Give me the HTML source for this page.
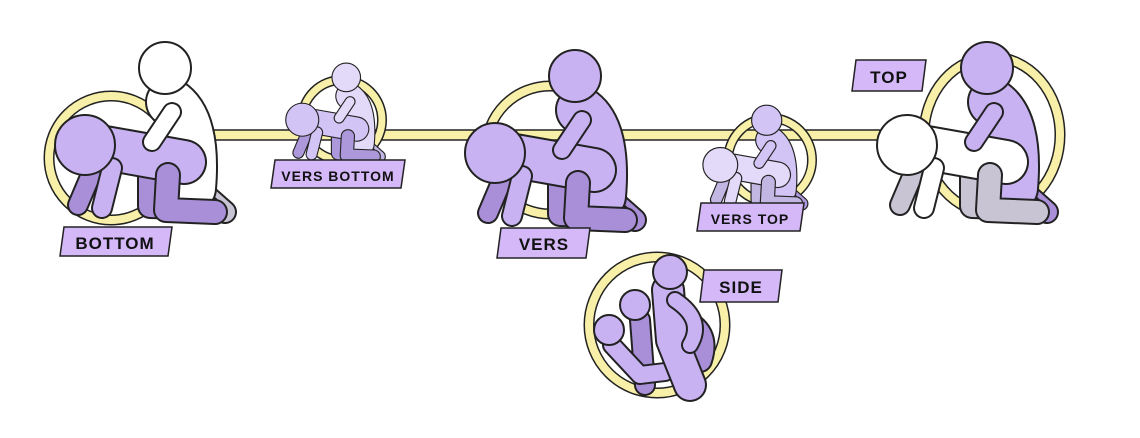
<!DOCTYPE html>
<html><head><meta charset="utf-8"><style>
html,body{margin:0;padding:0;background:#fff}
svg{display:block}
.lbl{font-family:"Liberation Sans",sans-serif;font-weight:bold;fill:#111;letter-spacing:1px}
</style></head><body>
<svg width="1140" height="438" viewBox="0 0 1140 438" xmlns="http://www.w3.org/2000/svg">
<defs>
<g id="pair" stroke-linecap="round" stroke-linejoin="round" fill="none">
  <path d="M150 150 L175 172" stroke="#222" stroke-width="24"/>
  <path d="M150 150 L175 172" stroke="var(--ts)" stroke-width="20"/>
  <path d="M45 125 L28 165" stroke="#222" stroke-width="22"/>
  <path d="M45 125 L28 165" stroke="var(--bs)" stroke-width="18"/>
  <path d="M100 128 L100 166 L158 168" stroke="#222" stroke-width="26"/>
  <path d="M100 128 L100 166 L158 168" stroke="var(--bs)" stroke-width="22"/>
  <path d="M120 62 Q148 80 142 148" stroke="#222" stroke-width="50"/>
  <path d="M120 62 Q148 80 142 148" stroke="var(--t)" stroke-width="46"/>
  <path d="M55 108 L134 122" stroke="#222" stroke-width="46"/>
  <path d="M55 108 L134 122" stroke="var(--b)" stroke-width="42"/>
  <path d="M62 128 L52 168" stroke="#222" stroke-width="22"/>
  <path d="M62 128 L52 168" stroke="var(--b)" stroke-width="18"/>
  <path d="M118 135 L116 170 L165 172" stroke="#222" stroke-width="26"/>
  <path d="M118 135 L116 170 L165 172" stroke="var(--bs)" stroke-width="22"/>
  <path d="M122 72 L102 102" stroke="#222" stroke-width="20"/>
  <path d="M122 72 L102 102" stroke="var(--t)" stroke-width="16"/>
  <circle cx="35" cy="105" r="30" fill="var(--b)" stroke="#222" stroke-width="2"/>
  <circle cx="115" cy="28" r="26" fill="var(--t)" stroke="#222" stroke-width="2"/>
</g>
</defs>

<rect x="170" y="130" width="740" height="10" fill="#f8f0a8" stroke="#222" stroke-width="1.5"/>

<g fill="none">
<circle cx="111" cy="158" r="62" stroke="#222" stroke-width="11"/><circle cx="111" cy="158" r="62" stroke="#f8f0a8" stroke-width="8"/>
<circle cx="342" cy="120" r="40" stroke="#222" stroke-width="10"/><circle cx="342" cy="120" r="40" stroke="#f8f0a8" stroke-width="7"/>
<circle cx="550" cy="150" r="64" stroke="#222" stroke-width="11"/><circle cx="550" cy="150" r="64" stroke="#f8f0a8" stroke-width="8"/>
<circle cx="770" cy="160" r="42" stroke="#222" stroke-width="10"/><circle cx="770" cy="160" r="42" stroke="#f8f0a8" stroke-width="7"/>
<ellipse cx="992" cy="135" rx="68" ry="78" stroke="#222" stroke-width="11"/><ellipse cx="992" cy="135" rx="68" ry="78" stroke="#f8f0a8" stroke-width="8"/>
<circle cx="657" cy="325" r="68" stroke="#222" stroke-width="11"/><circle cx="657" cy="325" r="68" stroke="#f8f0a8" stroke-width="8"/>
</g>

<use href="#pair" transform="translate(50,40)" style="--b:#c9b2f2;--bs:#a98fd8;--t:#ffffff;--ts:#c8c4d4"/>
<use href="#pair" transform="translate(283,62) scale(0.55)" style="--b:#d2c4f4;--bs:#ad98dc;--t:#e2daf8;--ts:#c2b6e2"/>
<use href="#pair" transform="translate(460,48)" style="--b:#c9b2f2;--bs:#a98fd8;--t:#c9b2f2;--ts:#a98fd8"/>
<use href="#pair" transform="translate(700,104) scale(0.58)" style="--b:#e2daf8;--bs:#c2b6e2;--t:#d2c4f4;--ts:#ad98dc"/>
<use href="#pair" transform="translate(872,40)" style="--b:#ffffff;--bs:#c8c4d4;--t:#c9b2f2;--ts:#a98fd8"/>

<g stroke-linecap="round" stroke-linejoin="round" fill="none">
  <path d="M640 320 L645 385" stroke="#222" stroke-width="22"/><path d="M640 320 L645 385" stroke="#a98fd8" stroke-width="18"/>
  <path d="M680 320 Q710 330 700 360" stroke="#222" stroke-width="26"/><path d="M680 320 Q710 330 700 360" stroke="#a98fd8" stroke-width="22"/>
  <path d="M612 345 L640 375 L665 372" stroke="#222" stroke-width="20"/><path d="M612 345 L640 375 L665 372" stroke="#c9b2f2" stroke-width="16"/>
  <path d="M668 290 L672 340 L690 385" stroke="#222" stroke-width="34"/><path d="M668 290 L672 340 L690 385" stroke="#c9b2f2" stroke-width="30"/>
  <path d="M675 300 Q705 320 690 345" stroke="#222" stroke-width="18"/><path d="M675 300 Q705 320 690 345" stroke="#c9b2f2" stroke-width="14"/>
  <circle cx="609" cy="330" r="15" fill="#c9b2f2" stroke="#222" stroke-width="2"/>
  <circle cx="635" cy="305" r="15" fill="#c9b2f2" stroke="#222" stroke-width="2"/>
  <circle cx="670" cy="272" r="17" fill="#c9b2f2" stroke="#222" stroke-width="2"/>
</g>

<g fill="#d4b8f8" stroke="#222" stroke-width="1.5">
<polygon points="64,227 172,227 168,256 60,256"/>
<polygon points="275,160 405,160 401,188 271,188"/>
<polygon points="501,228 590,228 586,258 497,258"/>
<polygon points="701,203 804,203 800,231 697,231"/>
<polygon points="856,60 926,60 922,91 852,91"/>
<polygon points="704,270 782,270 778,302 700,302"/>
</g>
<text class="lbl" x="115" y="249" font-size="17" text-anchor="middle">BOTTOM</text>
<text class="lbl" x="338" y="181" font-size="14" text-anchor="middle">VERS BOTTOM</text>
<text class="lbl" x="544" y="250" font-size="17" text-anchor="middle">VERS</text>
<text class="lbl" x="750" y="224" font-size="14" text-anchor="middle">VERS TOP</text>
<text class="lbl" x="889" y="83" font-size="17" text-anchor="middle">TOP</text>
<text class="lbl" x="741" y="293" font-size="17" text-anchor="middle">SIDE</text>
</svg>
</body></html>
